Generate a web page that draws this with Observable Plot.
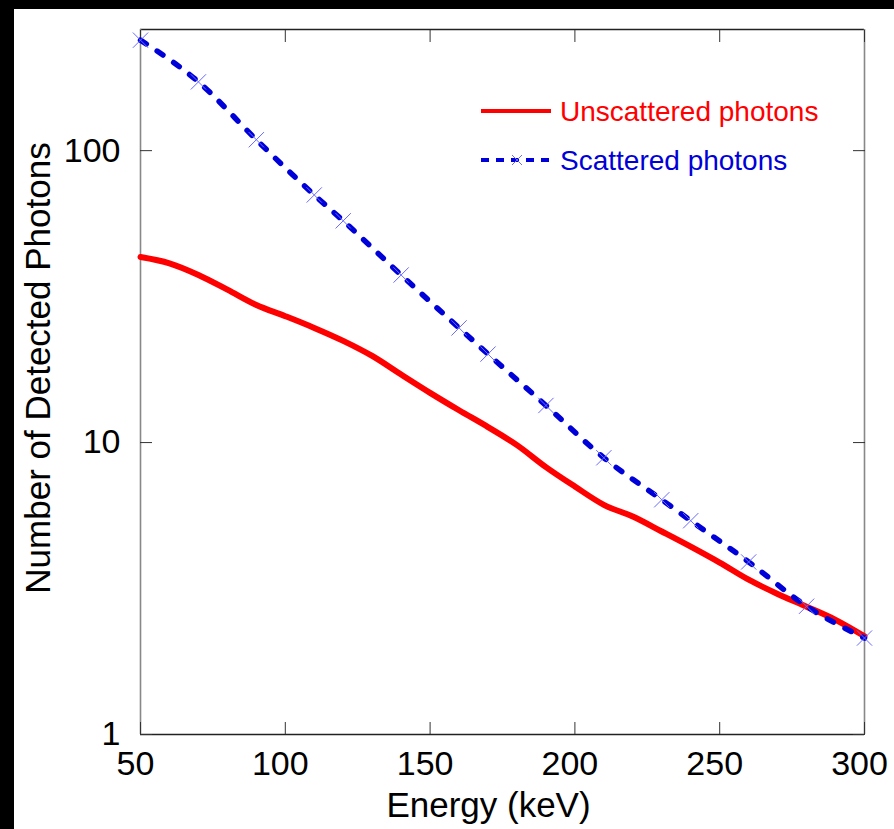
<!DOCTYPE html>
<html><head><meta charset="utf-8">
<script src="https://cdn.jsdelivr.net/npm/d3@7"></script>
<script src="https://cdn.jsdelivr.net/npm/@observablehq/plot@0.6"></script>
<style>
html,body{margin:0;padding:0;background:#000;width:894px;height:829px;overflow:hidden;}
#wrap{position:absolute;left:14px;top:9px;width:880px;height:820px;background:#fff;}
#legend{position:absolute;left:0;top:0;width:880px;height:820px;pointer-events:none;}
</style></head>
<body><div id="wrap"><div id="chart"></div><svg id="legend" width="880" height="820"></svg></div>
<script>
// Unscattered photons (red solid line)
const energy = [50,60,70,80,90,100,110,120,130,140,150,160,170,180,190,200,210,220,230,240,250,260,270,280,290,300];
const unscattered = [43.2,41.1,37.5,33.4,29.6,27.1,24.7,22.3,19.8,17.1,14.8,12.9,11.3,9.8,8.24,7.07,6.12,5.58,4.96,4.40,3.88,3.39,3.03,2.74,2.47,2.17];
// Scattered photons (blue dashed line with x markers)
const scatteredEnergy = [50,70,90,110,120,140,160,170,190,210,230,240,260,280,300];
const scattered = [239,172,109,70.5,57.5,37.5,24.7,20.1,13.4,8.87,6.37,5.4,3.9,2.75,2.14];
const xTicks = [50,100,150,200,250,300];
const yTicks = [1,10,100];
const seriesNames = ["Unscattered photons","Scattered photons"];
const xTitle = "Energy (keV)";
const yTitle = "Number of Detected Photons";

const red = "#ff0000", blue = "#0000d8", markBlue = "#6a6aff";
const uData = energy.map((e,i)=>({e, v: unscattered[i]}));
const sData = scatteredEnergy.map((e,i)=>({e, v: scattered[i]}));
const font = "'Liberation Sans', Arial, Helvetica, sans-serif";

const chart = Plot.plot({
  width: 880, height: 820,
  marginLeft: 126, marginRight: 30, marginTop: 20, marginBottom: 95,
  style: {fontFamily: font, background: "transparent", color: "#000", overflow: "visible"},
  x: {domain: [50, 300]},
  y: {type: "log", domain: [1, 260]},
  marks: [
    Plot.ruleY([260], {stroke: "#222", strokeWidth: 1.3}),
    Plot.ruleY([1], {stroke: "#222", strokeWidth: 1.3}),
    Plot.ruleX([50], {stroke: "#888", strokeWidth: 1.6}),
    Plot.ruleX([300], {stroke: "#888", strokeWidth: 1.6}),
    Plot.axisX(xTicks, {anchor: "bottom", tickSize: -12, fill: "none", stroke: "#333", label: null}),
    Plot.axisX(xTicks, {anchor: "top", tickSize: -12, fill: "none", stroke: "#333", label: null}),
    Plot.axisY(yTicks, {anchor: "left", tickSize: -12, fill: "none", stroke: "#333", label: null}),
    Plot.axisY(yTicks, {anchor: "right", tickSize: -12, fill: "none", stroke: "#333", label: null}),
    Plot.axisX(xTicks, {anchor: "bottom", tickSize: 0, tickPadding: 16, fontSize: 34, stroke: "none", label: null, dx: -5, tickFormat: d => String(d)}),
    Plot.axisY(yTicks, {anchor: "left", tickSize: 0, tickPadding: 20, fontSize: 34, stroke: "none", label: null, tickFormat: d => String(d)}),
    Plot.line(uData, {x: "e", y: "v", stroke: red, strokeWidth: 6, curve: "monotone-x"}),
    Plot.line(sData, {x: "e", y: "v", stroke: blue, strokeWidth: 5.5, strokeDasharray: "7,13", strokeLinecap: "round", curve: "monotone-x"}),
    Plot.dot(sData, {x: "e", y: "v", symbol: "times", r: 7, stroke: markBlue, strokeWidth: 1}),
    Plot.text([xTitle], {frameAnchor: "bottom", dy: 71, dx: -14, fontSize: 35, lineAnchor: "middle", fill: "#000"}),
    Plot.text([yTitle], {frameAnchor: "left", rotate: -90, dx: -102, dy: -14, fontSize: 35, textAnchor: "middle", lineAnchor: "middle", fill: "#000"})
  ]
});
document.getElementById("chart").appendChild(chart);

// Legend (inside plot area, top right)
const lg = d3.select("#legend");
const rows = [
  {name: seriesNames[0], color: red, y: 102, dashed: false},
  {name: seriesNames[1], color: blue, y: 151, dashed: true}
];
rows.forEach(r => {
  lg.append("line").attr("x1", 467).attr("x2", 537).attr("y1", r.y).attr("y2", r.y)
    .attr("stroke", r.color).attr("stroke-width", 4)
    .attr("stroke-dasharray", r.dashed ? "8,7" : null);
  if (r.dashed) {
    lg.append("path").attr("d", `M${503-5},${r.y-5}L${503+5},${r.y+5}M${503-5},${r.y+5}L${503+5},${r.y-5}`)
      .attr("stroke", markBlue).attr("stroke-width", 1).attr("fill", "none");
  }
  lg.append("text").attr("x", 546).attr("y", r.y).attr("dy", "0.35em")
    .attr("fill", r.color).attr("font-family", font).attr("font-size", 28).text(r.name);
});
</script>
</body></html>
